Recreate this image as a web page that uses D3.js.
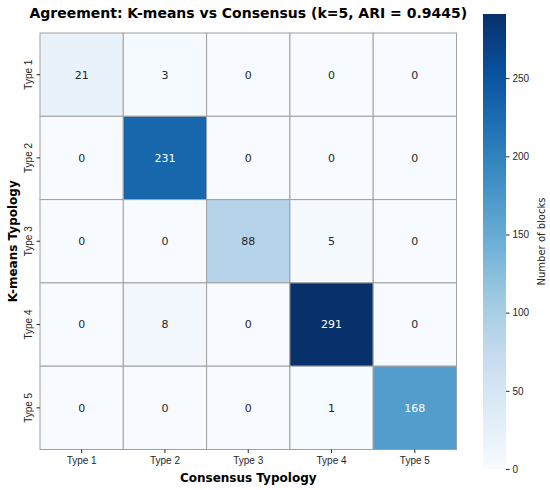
<!DOCTYPE html>
<html>
<head>
<meta charset="utf-8">
<script src="https://cdn.jsdelivr.net/npm/d3@7"></script>
<style>
  body { margin: 0; background: #fff; }
  svg { font-family: "DejaVu Sans", sans-serif; }
</style>
</head>
<body>
<div class="box"></div>
<script>
// rows = K-means typology, columns = consensus typology
let rowLabels = ["Type 1", "Type 2", "Type 3", "Type 4", "Type 5"]
let colLabels = ["Type 1", "Type 2", "Type 3", "Type 4", "Type 5"]
let counts = [
    [21, 3, 0, 0, 0],
    [0, 231, 0, 0, 0],
    [0, 0, 88, 5, 0],
    [0, 8, 0, 291, 0],
    [0, 0, 0, 1, 168],
]
let barTicks = [0, 50, 100, 150, 200, 250]
let blues = ["#f7fbff", "#deebf7", "#c6dbef", "#9ecae1", "#6baed6",
             "#4292c6", "#2171b5", "#08519c", "#08306b"]

let W = 550, H = 490
let mLeft = 40, mTop = 33, size = 416.5
let cbX = 483, cbW = 23, cbTop = 14, cbBottom = 469

let svg = d3.select('.box')
    .append("svg")
    .attr("width", W)
    .attr("height", H)

let vmax = d3.max(counts.flat())
let color = d3.scaleLinear()
    .domain(blues.map((d, i) => i * vmax / (blues.length - 1)))
    .range(blues)
    .interpolate(d3.interpolateRgb)

let x = d3.scaleBand().domain(colLabels).range([mLeft, mLeft + size])
let y = d3.scaleBand().domain(rowLabels).range([mTop, mTop + size])

let lum = (c) => {
    let rgb = d3.rgb(c)
    let f = (v) => {
        v = v / 255
        return v <= 0.03928 ? v / 12.92 : Math.pow((v + 0.055) / 1.055, 2.4)
    }
    return 0.2126 * f(rgb.r) + 0.7152 * f(rgb.g) + 0.0722 * f(rgb.b)
}

let cells = []
counts.forEach((row, i) => {
    row.forEach((v, j) => {
        cells.push({ r: rowLabels[i], c: colLabels[j], v: v })
    })
})

let g = svg.append("g")
g.selectAll("rect")
    .data(cells)
    .enter()
    .append("rect")
    .attr("x", d => x(d.c))
    .attr("y", d => y(d.r))
    .attr("width", x.bandwidth())
    .attr("height", y.bandwidth())
    .style("fill", d => color(d.v))
    .style("stroke", "#a0a0a0")
    .style("stroke-width", 1)

g.selectAll("text")
    .data(cells)
    .enter()
    .append("text")
    .attr("x", d => x(d.c) + x.bandwidth() / 2)
    .attr("y", d => y(d.r) + y.bandwidth() / 2)
    .attr("dy", "0.35em")
    .attr("text-anchor", "middle")
    .style("font-size", "11px")
    .style("fill", d => lum(color(d.v)) > 0.408 ? "#262626" : "#ffffff")
    .text(d => d.v)

// axes
let xAxis = svg.append("g")
    .attr("transform", `translate(0,${mTop + size})`)
    .call(d3.axisBottom(x).tickSize(3.5).tickPadding(4))
xAxis.select(".domain").remove()
xAxis.selectAll("text").style("font-size", "10px").style("fill", "#262626")
xAxis.selectAll("line").style("stroke", "#262626")

let yAxis = svg.append("g")
    .attr("transform", `translate(${mLeft},0)`)
    .call(d3.axisLeft(y).tickSize(3.5).tickPadding(4))
yAxis.select(".domain").remove()
yAxis.selectAll("line").style("stroke", "#262626")
yAxis.selectAll("text")
    .style("font-size", "10px")
    .style("fill", "#262626")
    .attr("text-anchor", "middle")
    .attr("x", 0)
    .attr("dy", 0)
    .attr("transform", "translate(-8,0) rotate(-90)")

svg.append("text")
    .attr("x", mLeft + size / 2)
    .attr("y", 482)
    .attr("text-anchor", "middle")
    .style("font-size", "12px")
    .style("font-weight", "bold")
    .text("Consensus Typology")

svg.append("text")
    .attr("transform", `translate(17,${mTop + size / 2}) rotate(-90)`)
    .attr("text-anchor", "middle")
    .style("font-size", "12px")
    .style("font-weight", "bold")
    .text("K-means Typology")

svg.append("text")
    .attr("x", mLeft + size / 2)
    .attr("y", 18)
    .attr("text-anchor", "middle")
    .style("font-size", "14px")
    .style("font-weight", "bold")
    .text("Agreement: K-means vs Consensus (k=5, ARI = 0.9445)")

// colorbar
let defs = svg.append("defs")
let grad = defs.append("linearGradient")
    .attr("id", "cb")
    .attr("x1", 0).attr("y1", 1)
    .attr("x2", 0).attr("y2", 0)
blues.forEach((c, i) => {
    grad.append("stop")
        .attr("offset", i / (blues.length - 1))
        .attr("stop-color", c)
})
svg.append("rect")
    .attr("x", cbX)
    .attr("y", cbTop)
    .attr("width", cbW)
    .attr("height", cbBottom - cbTop)
    .style("fill", "url(#cb)")

let cb = d3.scaleLinear().domain([0, vmax]).range([cbBottom, cbTop])
let cbAxis = svg.append("g")
    .attr("transform", `translate(${cbX + cbW},0)`)
    .call(d3.axisRight(cb).tickValues(barTicks).tickSize(3.5).tickPadding(3))
cbAxis.select(".domain").remove()
cbAxis.selectAll("text").style("font-size", "10px").style("fill", "#262626")
cbAxis.selectAll("line").style("stroke", "#262626")

svg.append("text")
    .attr("transform", `translate(545,${(cbTop + cbBottom) / 2}) rotate(-90)`)
    .attr("text-anchor", "middle")
    .style("font-size", "10px")
    .style("fill", "#262626")
    .text("Number of blocks")
</script>
</body>
</html>
